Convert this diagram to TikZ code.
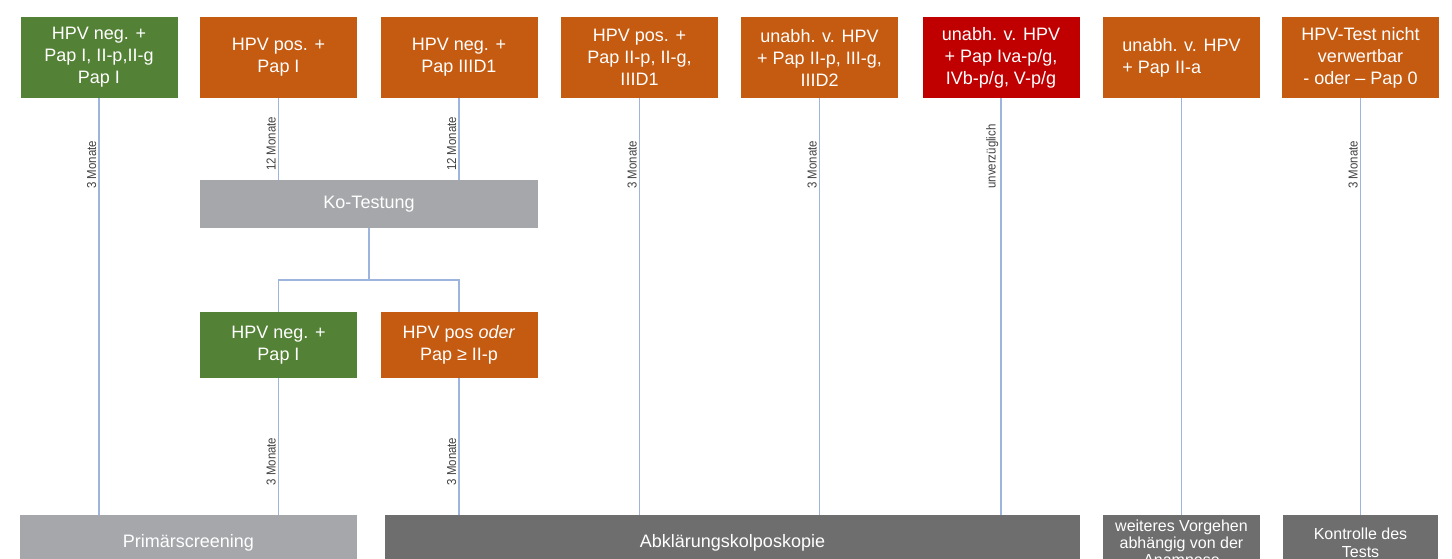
\documentclass[tikz,border=0pt]{standalone}
\usepackage{fontspec}
\setmainfont{Liberation Sans}
\newfontfamily\narrowfont[FakeStretch=0.88]{Liberation Sans}

\definecolor{hpvgreen}{HTML}{538135}
\definecolor{hpvorange}{HTML}{C55A11}
\definecolor{hpvred}{HTML}{C00000}
\definecolor{lightgrey}{HTML}{A5A7AA}
\definecolor{darkgrey}{HTML}{6E6E6E}
\definecolor{linkblue}{HTML}{9DB4DC}
\definecolor{lblgrey}{HTML}{404040}

\tikzset{
  box/.style={text=white, align=center, inner sep=0pt,
    font=\fontsize{18}{22}\selectfont},
  top/.style={box, minimum width=157pt, minimum height=81pt},
  mid/.style={box, minimum width=157pt, minimum height=66pt},
  bottom/.style={box, minimum height=56pt},
}

\begin{document}
\begin{tikzpicture}[x=1pt, y=-1pt,
  link/.style={draw=linkblue, line width=1.3pt},
  lbl/.style={rotate=90, anchor=south, inner sep=2pt, text=lblgrey,
    font=\narrowfont\fontsize{13}{13}\selectfont}]
  \clip (0,0) rectangle (1452,559);

  % first row
  \node[top, fill=hpvgreen]  (b1) at (99,57.5)     {HPV neg. +\\Pap I, II-p,II-g\\Pap I};
  \node[top, fill=hpvorange] (b2) at (278.5,57.5)  {HPV pos. +\\Pap I};
  \node[top, fill=hpvorange] (b3) at (459,57.5)    {HPV neg. +\\Pap IIID1};
  \node[top, fill=hpvorange] (b4) at (639.5,57.5)  {HPV pos. +\\Pap II-p, II-g,\\IIID1};
  \node[top, fill=hpvorange] (b5) at (819.5,57.5)  {unabh. v. HPV\\+ Pap II-p, III-g,\\IIID2};
  \node[top, fill=hpvred]    (b6) at (1001,57.5)   {unabh. v. HPV\\+ Pap Iva-p/g,\\IVb-p/g, V-p/g};
  \node[top, fill=hpvorange, align=left] (b7) at (1181.5,57.5) {unabh. v. HPV\\+ Pap II-a};
  \node[top, fill=hpvorange] (b8) at (1360.5,57.5) {HPV-Test nicht\\verwertbar\\- oder -- Pap 0};

  \node[box, fill=lightgrey, minimum width=338pt, minimum height=48pt] (ko) at (369,204) {Ko-Testung};
  \coordinate (fork) at (369,280);

  \node[mid, fill=hpvgreen]  (l1) at (278.5,345) {HPV neg. +\\Pap I};
  \node[mid, fill=hpvorange] (l2) at (459,345)   {HPV pos \textit{oder}\\Pap ≥ II-p};

  % last row
  \node[bottom, fill=lightgrey, minimum width=337pt] (ps) at (188.5,543) {Primärscreening};
  \node[bottom, fill=darkgrey, minimum width=695pt]  (ak) at (732.5,543) {Abklärungskolposkopie};
  \node[bottom, fill=darkgrey, minimum width=157pt, font=\fontsize{16}{17}\selectfont]
    (wv) at (1181.5,543) {weiteres Vorgehen\\abhängig von der\\Anamnese};
  \node[bottom, fill=darkgrey, minimum width=155pt, font=\fontsize{16}{18}\selectfont]
    (kt) at (1360.5,543) {Kontrolle des\\Tests};

  \path[link]
    (b1) edge node[lbl, pos=.16] {3 Monate} (b1 |- ps.north)
    (b2) edge node[lbl, pos=.56] {12 Monate} (b2 |- ko.north)
    (b3) edge node[lbl, pos=.56] {12 Monate} (b3 |- ko.north)
    (b4) edge node[lbl, pos=.16] {3 Monate} (b4 |- ak.north)
    (b5) edge node[lbl, pos=.16] {3 Monate} (b5 |- ak.north)
    (b6) edge node[lbl, pos=.14] {unverzüglich} (b6 |- ak.north)
    (b7) edge (b7 |- wv.north)
    (b8) edge node[lbl, pos=.16] {3 Monate} (b8 |- kt.north)
    (ko) edge (fork)
    (l1) edge node[lbl, pos=.61] {3 Monate} (l1 |- ps.north)
    (l2) edge node[lbl, pos=.61] {3 Monate} (l2 |- ak.north);
  \draw[link] (l1) |- (fork) -| (l2);

\end{tikzpicture}
\end{document}
